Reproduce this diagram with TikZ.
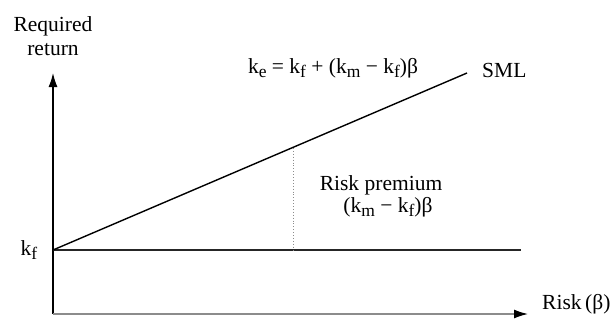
\documentclass[tikz,border=0pt]{standalone}
\usepackage{fontspec}
\setmainfont{Liberation Serif}
\usetikzlibrary{arrows.meta}
\newcommand{\lo}[1]{\raisebox{-0.5ex}{\fontsize{17.5}{17.5}\selectfont #1}}
\begin{document}
\begin{tikzpicture}[x=1pt,y=-1pt,
  lbl/.style={font=\fontsize{21.5}{26}\selectfont, inner sep=0pt},
  axis/.style={line width=1.4pt, -{Latex[length=14pt,width=9pt,color=black]}},
  curve/.style={line width=1.4pt, black}]
\useasboundingbox (0,0) rectangle (612,324);
\coordinate (O) at (53,314);
\coordinate (Ytop) at (53,73);
\coordinate (Xend) at (528,314);
\coordinate (F) at (53,250);
\coordinate (Fend) at (521,250);
\coordinate (S) at (467,73);
\coordinate (D1) at (293,148);
\coordinate (D2) at (293,250);
% axes
\draw[axis, black] (O) -- (Ytop);
\draw[axis, black!45] (O) -- (Xend);
% lines
\draw[curve, black!85] (F) -- (Fend);
\draw[curve] (F) -- (S);
\draw[black!45, line width=0.9pt, dotted] (D1) -- (D2);
% labels
\node[lbl, anchor=base] (req) at (53,31) {Required};
\node[lbl, anchor=base] (ret) at (53,55) {return};
\node[lbl, anchor=base] (form) at (333,73) {k\lo{e} = k\lo{f} + (k\lo{m} − k\lo{f})β};
\node[lbl, anchor=base west] (sml) at (482,77) {SML};
\node[lbl, anchor=base] (prem) at (381,190) {Risk premium};
\node[lbl, anchor=base] (premf) at (388,212) {(k\lo{m} − k\lo{f})β};
\node[lbl, anchor=base] (kf) at (29,255) {k\lo{f}};
\node[lbl, anchor=base west] (risk) at (542,309) {Risk\,(β)};
\end{tikzpicture}
\end{document}
